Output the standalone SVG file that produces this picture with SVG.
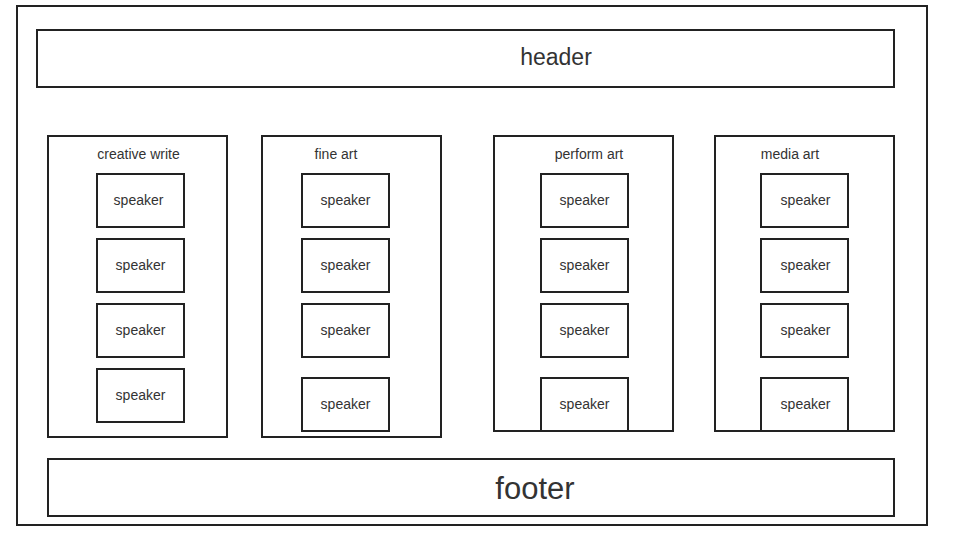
<svg xmlns="http://www.w3.org/2000/svg" width="956" height="544" viewBox="0 0 956 544">
<style>
rect{fill:#fff;stroke:#222;stroke-width:2}
text{font-family:"Liberation Sans",Arial,sans-serif;fill:#333;text-anchor:middle}
.s{font-size:14px}
.l{font-size:14px}
</style>
<rect width="956" height="544" style="stroke:none"/>
<g id="page"><rect x="17" y="6" width="910" height="519"/></g>
<g id="header"><rect x="37" y="30" width="857" height="57"/><text x="556" y="65" style="font-size:23px">header</text></g>
<g id="creative"><rect x="48" y="136" width="179" height="301"/><text class="l" x="138.5" y="159">creative write</text></g>
<g id="fine"><rect x="262" y="136" width="179" height="301"/><text class="l" x="336" y="159">fine art</text></g>
<g id="perform"><rect x="494" y="136" width="179" height="295"/><text class="l" x="589" y="159">perform art</text></g>
<g id="media"><rect x="715" y="136" width="179" height="295"/><text class="l" x="790" y="159">media art</text></g>
<g id="c1"><rect x="97" y="174" width="87" height="53"/><text class="s" x="138.5" y="205">speaker</text></g>
<g id="c2"><rect x="97" y="239" width="87" height="53"/><text class="s" x="140.5" y="270">speaker</text></g>
<g id="c3"><rect x="97" y="304" width="87" height="53"/><text class="s" x="140.5" y="335">speaker</text></g>
<g id="c4"><rect x="97" y="369" width="87" height="53"/><text class="s" x="140.5" y="400">speaker</text></g>
<g id="f1"><rect x="302" y="174" width="87" height="53"/><text class="s" x="345.5" y="205">speaker</text></g>
<g id="f2"><rect x="302" y="239" width="87" height="53"/><text class="s" x="345.5" y="270">speaker</text></g>
<g id="f3"><rect x="302" y="304" width="87" height="53"/><text class="s" x="345.5" y="335">speaker</text></g>
<g id="f4"><rect x="302" y="378" width="87" height="53"/><text class="s" x="345.5" y="409">speaker</text></g>
<g id="p1"><rect x="541" y="174" width="87" height="53"/><text class="s" x="584.5" y="205">speaker</text></g>
<g id="p2"><rect x="541" y="239" width="87" height="53"/><text class="s" x="584.5" y="270">speaker</text></g>
<g id="p3"><rect x="541" y="304" width="87" height="53"/><text class="s" x="584.5" y="335">speaker</text></g>
<g id="p4"><rect x="541" y="378" width="87" height="53"/><text class="s" x="584.5" y="409">speaker</text></g>
<g id="m1"><rect x="761" y="174" width="87" height="53"/><text class="s" x="805.5" y="205">speaker</text></g>
<g id="m2"><rect x="761" y="239" width="87" height="53"/><text class="s" x="805.5" y="270">speaker</text></g>
<g id="m3"><rect x="761" y="304" width="87" height="53"/><text class="s" x="805.5" y="335">speaker</text></g>
<g id="m4"><rect x="761" y="378" width="87" height="53"/><text class="s" x="805.5" y="409">speaker</text></g>
<g id="footer"><rect x="48" y="459" width="846" height="57"/><text x="535" y="499" style="font-size:31px">footer</text></g>
<g id="connectors"/>
</svg>
